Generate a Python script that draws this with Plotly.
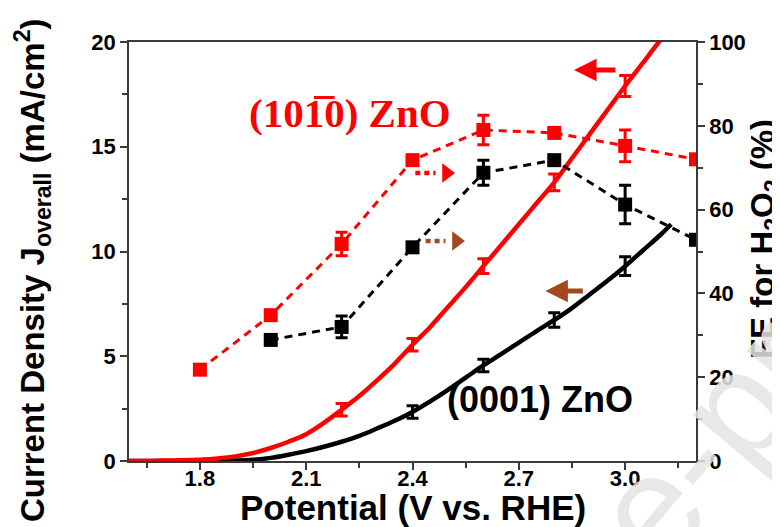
import plotly.graph_objects as go

# ---------------- data ----------------
# LSV current density curves (left axis, mA/cm2)
pot_red = [1.60, 1.65, 1.70, 1.75, 1.80, 1.85, 1.90, 1.95, 2.00, 2.05, 2.10, 2.15, 2.20, 2.25, 2.30,
           2.35, 2.40, 2.45, 2.50, 2.55, 2.60, 2.65, 2.70, 2.75, 2.80, 2.85, 2.90, 2.95, 3.00, 3.05,
           3.10, 3.13]
j_red = [0.0, 0.0, 0.02, 0.03, 0.06, 0.12, 0.22, 0.38, 0.62, 0.92, 1.28, 1.82, 2.45, 3.10, 3.85,
         4.65, 5.55, 6.40, 7.35, 8.30, 9.30, 10.3, 11.3, 12.3, 13.3, 14.45, 15.6, 16.75, 17.9, 19.0,
         20.1, 20.7]

pot_black = [1.60, 1.85, 1.90, 1.95, 2.00, 2.05, 2.10, 2.15, 2.20, 2.25, 2.30, 2.35, 2.40, 2.45,
             2.50, 2.55, 2.60, 2.65, 2.70, 2.75, 2.80, 2.85, 2.90, 2.95, 3.00, 3.05, 3.10, 3.13]
j_black = [0.0, 0.0, 0.02, 0.06, 0.15, 0.30, 0.47, 0.68, 0.92, 1.20, 1.55, 1.92, 2.34, 2.85,
           3.40, 3.98, 4.56, 5.10, 5.65, 6.20, 6.73, 7.30, 7.95, 8.60, 9.30, 10.05, 10.8, 11.3]

# error bars on the current density curves
eb_pot_red = [2.2, 2.4, 2.6, 2.8, 3.0]
eb_j_red = [2.45, 5.55, 9.30, 13.3, 17.9]
eb_err_red = [0.3, 0.3, 0.35, 0.4, 0.5]

eb_pot_black = [2.4, 2.6, 2.8, 3.0]
eb_j_black = [2.34, 4.56, 6.73, 9.30]
eb_err_black = [0.3, 0.3, 0.35, 0.45]

# Faradaic efficiency for H2O2 (right axis, %)
fe_pot_red = [1.8, 2.0, 2.2, 2.4, 2.6, 2.8, 3.0, 3.2]
fe_red = [21.8, 34.8, 51.8, 71.8, 79.0, 78.3, 75.2, 72.0]
fe_err_red = [0, 0, 2.8, 0, 3.5, 0.8, 3.8, 0]

fe_pot_black = [2.0, 2.2, 2.4, 2.6, 2.8, 3.0, 3.2]
fe_black = [28.9, 32.0, 51.0, 68.8, 71.8, 61.2, 52.8]
fe_err_black = [0, 2.6, 0, 3.0, 0.8, 4.6, 0]

x_ticks = [1.8, 2.1, 2.4, 2.7, 3.0]
x_ticktext = ["1.8", "2.1", "2.4", "2.7", "3.0"]
x_minor = [1.65, 1.95, 2.25, 2.55, 2.85, 3.15]

RED = "#ff0000"
BLACK = "#000000"
BROWN = "#a4471f"
AXC = "#3a3a3a"
FONT = "Liberation Sans, Arial, sans-serif"

fig = go.Figure()

# dashed FE traces (right axis)
fig.add_trace(go.Scatter(
    x=fe_pot_black, y=fe_black, yaxis="y2", mode="lines+markers",
    line=dict(color=BLACK, width=3, dash="8px,6px"),
    marker=dict(symbol="square", size=14, color=BLACK),
    error_y=dict(type="data", array=fe_err_black, color=BLACK, thickness=3, width=6)))
fig.add_trace(go.Scatter(
    x=fe_pot_red, y=fe_red, yaxis="y2", mode="lines+markers",
    line=dict(color=RED, width=3, dash="8px,6px"),
    marker=dict(symbol="square", size=14, color=RED),
    error_y=dict(type="data", array=fe_err_red, color=RED, thickness=3, width=6)))

# solid current density curves (left axis)
fig.add_trace(go.Scatter(x=pot_black, y=j_black, mode="lines",
                         line=dict(color=BLACK, width=4.5, shape="spline")))
fig.add_trace(go.Scatter(x=eb_pot_black, y=eb_j_black, mode="markers",
                         marker=dict(size=1, color=BLACK),
                         error_y=dict(type="data", array=eb_err_black, color=BLACK,
                                      thickness=3, width=6)))
fig.add_trace(go.Scatter(x=pot_red, y=j_red, mode="lines",
                         line=dict(color=RED, width=4.5, shape="spline")))
fig.add_trace(go.Scatter(x=eb_pot_red, y=eb_j_red, mode="markers",
                         marker=dict(size=1, color=RED),
                         error_y=dict(type="data", array=eb_err_red, color=RED,
                                      thickness=3, width=6)))

# dotted arrows pointing right (towards FE axis)
for tail, base, tip_c, yv, col in [(2.408, 2.465, 2.496, 13.75, RED),
                                   (2.437, 2.493, 2.524, 10.5, BROWN)]:
    fig.add_trace(go.Scatter(x=[tail, base], y=[yv, yv], mode="lines",
                             line=dict(color=col, width=4.5, dash="5px,4px")))
    fig.add_trace(go.Scatter(x=[tip_c], y=[yv], mode="markers",
                             marker=dict(symbol="triangle-right", size=17, color=col)))

annotations = []
# solid arrows pointing left (towards current axis)
for head, tail, yv, col in [(2.856, 2.977, 18.66, RED), (2.775, 2.885, 8.11, BROWN)]:
    annotations.append(dict(x=head, y=yv, ax=tail, ay=yv, xref="x", yref="y",
                            axref="x", ayref="y", text="", showarrow=True,
                            arrowhead=2, arrowsize=0.9, arrowwidth=5, arrowcolor=col))

annotations += [
    dict(x=1.122, y=0.53, xref="paper", yref="paper", textangle=-90,
         xanchor="center", yanchor="middle",
         text="FE for H<sub>2</sub>O<sub>2</sub> (%)", showarrow=False,
         font=dict(family=FONT, size=33, color=BLACK, weight="bold")),
    dict(x=1.02, y=0.05, xref="paper", yref="paper", textangle=-50,
         xanchor="center", yanchor="middle",
         text="e-pr", showarrow=False,
         font=dict(family=FONT, size=150, color="rgba(228,228,228,0.85)")),
    dict(x=2.225, y=16.6, xref="x", yref="y", text="(10" + "1\u0305" + "0) ZnO",
         xanchor="center", yanchor="middle", showarrow=False,
         font=dict(family="Liberation Serif, serif", size=41, color=RED, weight="bold")),
    dict(x=2.76, y=2.95, xref="x", yref="y", text="(0001) ZnO", showarrow=False,
         xanchor="center", yanchor="middle",
         font=dict(family=FONT, size=36, color=BLACK, weight="bold")),
    dict(x=-0.169, y=0.456, xref="paper", yref="paper", textangle=-90,
         xanchor="center", yanchor="middle",
         text="Current Density J<sub>overall</sub> (mA/cm<sup>2</sup>)", showarrow=False,
         font=dict(family=FONT, size=33, color=BLACK, weight="bold")),
    dict(x=0.5, y=-0.111, xref="paper", yref="paper", xanchor="center", yanchor="middle",
         text="Potential (V vs. RHE)", showarrow=False,
         font=dict(family=FONT, size=35, color=BLACK, weight="bold")),
]

tickfont = dict(family=FONT, size=22, color=BLACK, weight="bold")

fig.update_layout(
    width=780, height=527,
    margin=dict(l=121, r=92, t=34, b=74),
    plot_bgcolor="white", paper_bgcolor="white",
    showlegend=False,
    annotations=annotations,
    xaxis=dict(range=[1.6, 3.2], tickvals=x_ticks, ticktext=x_ticktext,
               ticks="outside", ticklen=7, tickwidth=1.5, tickcolor=AXC,
               ticklabelstandoff=-10,
               minor=dict(tickvals=x_minor, ticks="outside", ticklen=5, tickwidth=1.5,
                          tickcolor=AXC),
               showline=True, linecolor=AXC, linewidth=1.5, mirror=True,
               showgrid=False, zeroline=False, tickfont=tickfont),
    yaxis=dict(range=[0, 20], dtick=5, ticks="outside", ticklen=7, tickwidth=1.5,
               tickcolor=AXC,
               minor=dict(dtick=2.5, ticks="outside", ticklen=5, tickwidth=1.5, tickcolor=AXC),
               showline=True, linecolor=AXC, linewidth=1.5,
               showgrid=False, zeroline=False, tickfont=tickfont),
    yaxis2=dict(range=[0, 100], dtick=20, overlaying="y", side="right",
                ticks="outside", ticklen=7, tickwidth=1.5, tickcolor=AXC,
                minor=dict(dtick=10, ticks="outside", ticklen=5, tickwidth=1.5, tickcolor=AXC),
                showline=True, linecolor=AXC, linewidth=1.5,
                showgrid=False, zeroline=False, tickfont=tickfont),
)

fig.write_html("out.html")
